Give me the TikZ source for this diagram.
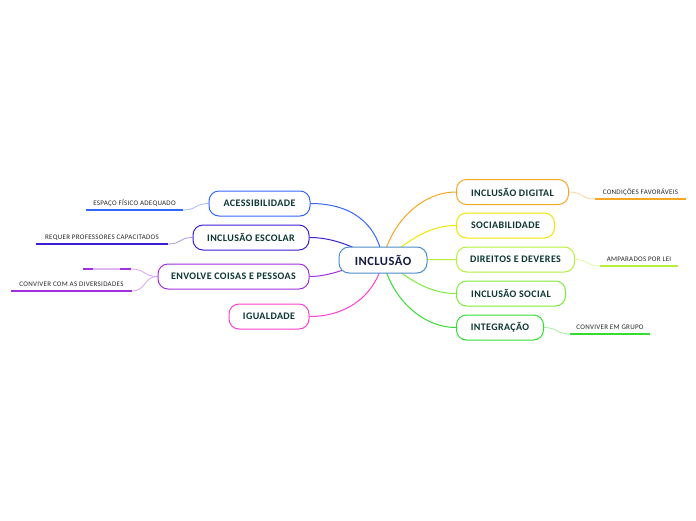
\documentclass[tikz,border=0pt]{standalone}
\usepackage{fontspec}
\setmainfont{Carlito}
\newfontfamily\mapafonte[LetterSpace=4]{Carlito}
\usetikzlibrary{backgrounds}

\definecolor{azul}{HTML}{3366FF}
\definecolor{anil}{HTML}{3B20D8}
\definecolor{roxo}{HTML}{A030E0}
\definecolor{rosa}{HTML}{FF3FD0}
\definecolor{laranja}{HTML}{F5A623}
\definecolor{amarelo}{HTML}{F0E600}
\definecolor{lima}{HTML}{B5F03A}
\definecolor{verdeclaro}{HTML}{7EEB3A}
\definecolor{verde}{HTML}{33DD33}
\definecolor{bordacentro}{HTML}{4A8CC8}
\definecolor{textoverde}{HTML}{0B3530}
\definecolor{textocentro}{HTML}{161A44}

\begin{document}
\begin{tikzpicture}[x=1pt,y=-1pt,
    topico/.style={draw=#1, line width=1pt, fill=white, rounded corners=10pt,
        minimum height=25pt, inner sep=0pt, text=textoverde,
        font=\mapafonte\bfseries\fontsize{10}{11}\selectfont},
    sub/.style={anchor=south, inner xsep=0pt, inner ysep=3pt, text height=5pt,
        text depth=1.5pt, text=black!85, font=\mapafonte\fontsize{7}{8}\selectfont},
    ramo/.style={draw=#1, line width=1pt},
    ramosub/.style={draw=#1!45, line width=0.8pt},
    sublinha/.style={draw=#1, line width=1.3pt}]
    \useasboundingbox (0,0) rectangle (696,520);

    % Topico central
    \node[topico=bordacentro, minimum width=88pt, minimum height=26pt, text=textocentro,
        font=\mapafonte\bfseries\fontsize{12.5}{14}\selectfont] (inc) at (383,260) {INCLUSÃO};

    % Topicos da esquerda
    \node[topico=azul, minimum width=101pt] (ace) at (259.5,203.5) {ACESSIBILIDADE};
    \node[topico=anil, minimum width=116pt] (esc) at (251,237.5) {INCLUSÃO ESCOLAR};
    \node[topico=roxo, minimum width=151pt] (env) at (233.5,276.5) {ENVOLVE COISAS E PESSOAS};
    \node[topico=rosa, minimum width=80pt] (igu) at (269,316.5) {IGUALDADE};

    % Topicos da direita
    \foreach \n/\txt/\c/\y/\w in {dig/INCLUSÃO DIGITAL/laranja/192/112,
        soc/SOCIABILIDADE/amarelo/225.5/98,
        dir/DIREITOS E DEVERES/lima/259.5/118,
        socl/INCLUSÃO SOCIAL/verdeclaro/293.5/109,
        int/INTEGRAÇÃO/verde/327.5/87} {
        \node[topico=\c, minimum width=\w pt, anchor=west] (\n) at (456,\y) {\txt};
    }

    % Subtopicos
    \node[sub, minimum width=91pt] (cond) at (640.5,199) {CONDIÇÕES FAVORÁVEIS};
    \node[sub, minimum width=78pt] (amp) at (639,266) {AMPARADOS POR LEI};
    \node[sub, minimum width=80pt] (conv) at (610,334) {CONVIVER EM GRUPO};
    \node[sub, minimum width=97pt] (esp) at (134.5,210) {ESPAÇO FÍSICO ADEQUADO};
    \node[sub, minimum width=132pt] (req) at (102,244) {REQUER PROFESSORES CAPACITADOS};
    \node[sub, minimum width=121pt] (div) at (71.5,291) {CONVIVER COM AS DIVERSIDADES};
    \node[sub, minimum width=48pt] (vaz) at (107,269) {};

    % Sublinhados
    \draw[sublinha=laranja] (cond.south west) -- (cond.south east);
    \draw[sublinha=lima] (amp.south west) -- (amp.south east);
    \draw[sublinha=verde] (conv.south west) -- (conv.south east);
    \draw[sublinha=azul] (esp.south west) -- (esp.south east);
    \draw[sublinha=anil] (req.south west) -- (req.south east);
    \draw[sublinha=roxo] (div.south west) -- (div.south east);
    \draw[sublinha=roxo] (vaz.south west) -- (vaz.south east);
    \draw[sublinha=roxo!35] ([xshift=10pt]vaz.south west) -- ([xshift=-11pt]vaz.south east);

    \begin{pgfonlayer}{background}
        % Ramos do topico central
        \draw[ramo=azul] (ace.east) .. controls (350,203.5) and (377,222) .. (inc.center);
        \draw[ramo=anil] (esc.east) .. controls (340,237.5) and (360,252) .. (inc.center);
        \draw[ramo=roxo] (env.east) .. controls (335,276.5) and (355,263) .. (inc.center);
        \draw[ramo=rosa] (igu.east) .. controls (350,316.5) and (377,292) .. (inc.center);
        \draw[ramo=laranja] (dig.west) .. controls (420,192) and (390,225) .. (inc.center);
        \draw[ramo=amarelo] (soc.west) .. controls (425,225.5) and (405,245) .. (inc.center);
        \draw[ramo=lima] (dir.west) -- (inc.center);
        \draw[ramo=verdeclaro] (socl.west) .. controls (425,293.5) and (405,275) .. (inc.center);
        \draw[ramo=verde] (int.west) .. controls (420,327.5) and (390,295) .. (inc.center);

        % Ramos dos subtopicos
        \draw[ramosub=laranja] (dig.east) .. controls +(14,0) and +(-14,0) .. (cond.south west);
        \draw[ramosub=lima] (dir.east) .. controls +(14,0) and +(-14,0) .. (amp.south west);
        \draw[ramosub=verde] (int.east) .. controls +(14,0) and +(-14,0) .. (conv.south west);
        \draw[ramosub=azul] (ace.west) .. controls +(-14,0) and +(14,0) .. (esp.south east);
        \draw[ramosub=anil] (esc.west) .. controls +(-14,0) and +(14,0) .. (req.south east);
        \draw[ramosub=roxo] (env.west) .. controls +(-14,0) and +(14,0) .. (vaz.south east);
        \draw[ramosub=roxo] (env.west) .. controls +(-14,0) and +(14,0) .. (div.south east);
    \end{pgfonlayer}
\end{tikzpicture}
\end{document}
